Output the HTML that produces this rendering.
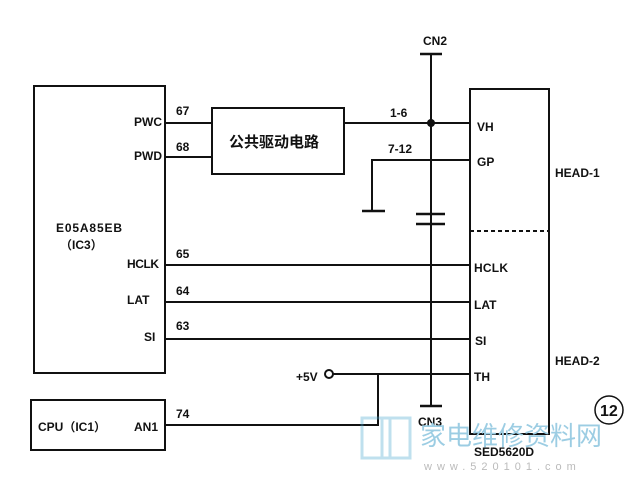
<!DOCTYPE html>
<html><head><meta charset="utf-8"><style>
html,body{margin:0;padding:0;background:#fff;width:638px;height:491px;overflow:hidden}
svg text{font-family:"Liberation Sans","Noto Sans CJK SC",sans-serif;fill:#111;font-weight:bold}
</style></head><body>
<svg width="638" height="491" viewBox="0 0 638 491" xmlns="http://www.w3.org/2000/svg">
<g stroke="#111" stroke-width="2" fill="none">
<rect x="34" y="86" width="131" height="287"/>
<rect x="31" y="400" width="134" height="50"/>
<rect x="212" y="108" width="132" height="66"/>
<rect x="470" y="89" width="79" height="345"/>
<line x1="470" y1="231" x2="549" y2="231" stroke-dasharray="4,3"/>
<line x1="431" y1="54" x2="431" y2="406"/>
<line x1="420" y1="54" x2="442" y2="54" stroke-width="2.5"/>
<line x1="420" y1="406" x2="442" y2="406" stroke-width="2.5"/>
<line x1="165" y1="123" x2="212" y2="123"/>
<line x1="165" y1="157" x2="212" y2="157"/>
<line x1="344" y1="123" x2="470" y2="123"/>
<polyline points="470,160 372,160 372,211"/>
<line x1="362" y1="211" x2="385" y2="211" stroke-width="2.5"/>
<line x1="416" y1="214" x2="445" y2="214" stroke-width="2.5"/>
<line x1="416" y1="224" x2="445" y2="224" stroke-width="2.5"/>
<line x1="165" y1="265" x2="470" y2="265"/>
<line x1="165" y1="302" x2="470" y2="302"/>
<line x1="165" y1="339" x2="470" y2="339"/>
<line x1="333" y1="374" x2="470" y2="374"/>
<polyline points="165,425 378,425 378,374"/>
<circle cx="329" cy="374" r="4"/>
<circle cx="609" cy="410" r="14" stroke-width="1.5"/>
</g>
<circle cx="431" cy="123" r="4" fill="#111"/>
<g font-size="12">
<text x="134" y="126" textLength="28">PWC</text>
<text x="134" y="160" textLength="28">PWD</text>
<text x="176" y="115">67</text>
<text x="176" y="151">68</text>
<text x="56" y="232" textLength="66">E05A85EB</text>
<text x="60" y="249">（IC3）</text>
<text x="127" y="268" textLength="32">HCLK</text>
<text x="176" y="258">65</text>
<text x="127" y="304">LAT</text>
<text x="176" y="295">64</text>
<text x="144" y="341">SI</text>
<text x="176" y="330">63</text>
<text x="38" y="431">CPU（IC1）</text>
<text x="134" y="431">AN1</text>
<text x="176" y="418">74</text>
<text x="229" y="147" font-size="15">公共驱动电路</text>
<text x="390" y="117">1-6</text>
<text x="388" y="153">7-12</text>
<text x="423" y="45">CN2</text>
<text x="418" y="426">CN3</text>
<text x="477" y="131">VH</text>
<text x="477" y="166">GP</text>
<text x="474" y="272" textLength="34">HCLK</text>
<text x="474" y="309">LAT</text>
<text x="475" y="345">SI</text>
<text x="474" y="381">TH</text>
<text x="296" y="381">+5V</text>
<text x="555" y="177">HEAD-1</text>
<text x="555" y="365">HEAD-2</text>
<text x="474" y="456">SED5620D</text>
<text x="600" y="416" font-size="16">12</text>
</g>
<g opacity="0.35" fill="none" stroke="#4aa7d0" stroke-width="3">
<rect x="362" y="418" width="28" height="40"/>
<rect x="382" y="418" width="28" height="40"/>
</g>
<text x="420" y="445" font-size="26" style="fill:#9ccde3;font-weight:normal">家电维修资料网</text>
<text x="424" y="470" font-size="11" style="fill:#bbb;font-weight:normal" letter-spacing="5">www.520101.com</text>
</svg>
</body></html>
